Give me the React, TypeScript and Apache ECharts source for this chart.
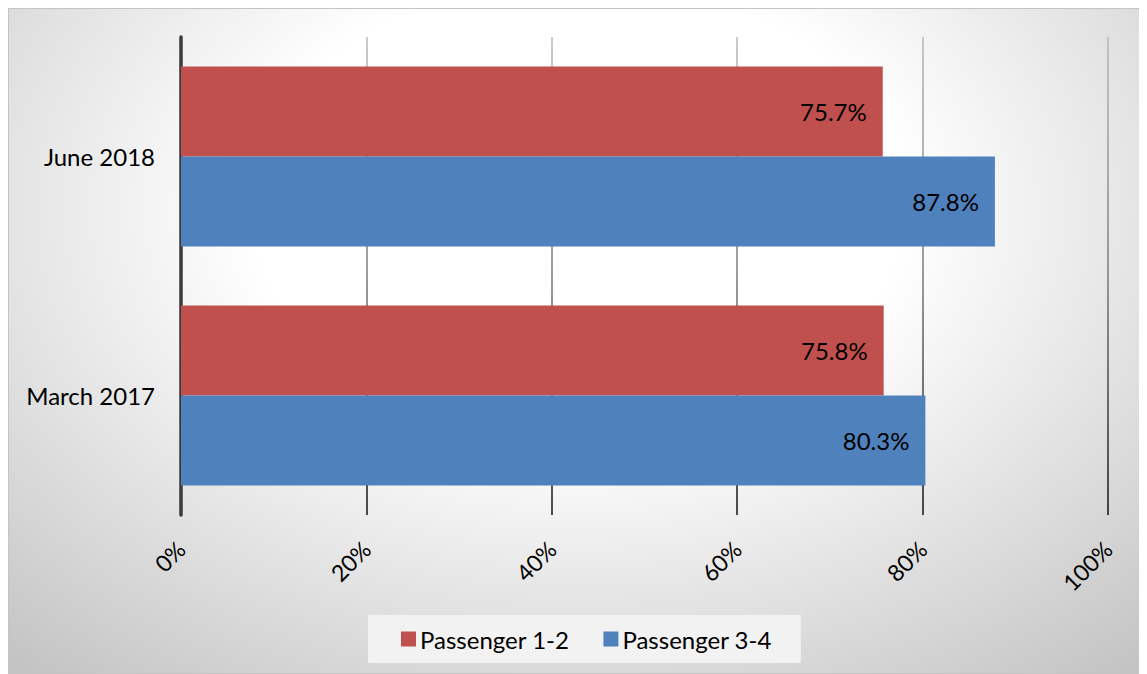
import React, { useEffect, useRef } from "react";
import * as echarts from "echarts";

const categories = ["March 2017", "June 2018"];
const seriesNames = ["Passenger 1-2", "Passenger 3-4"];
const passenger12 = [75.8, 75.7];
const passenger34 = [80.3, 87.8];
const colors = ["#C0504D", "#4F81BD"];

const FONT = "Lato, 'Noto Sans', sans-serif";

export default function App() {
  const ref = useRef<HTMLDivElement>(null);
  useEffect(() => {
    if (!ref.current) return;
    const chart = echarts.init(ref.current, undefined, { renderer: "svg" });
    const labelCfg = {
      show: true,
      position: "insideRight",
      distance: 16,
      color: "#000",
      fontFamily: FONT,
      fontSize: 24,
      formatter: (p: any) => p.value.toFixed(1) + "%",
    };
    chart.setOption({
      animation: false,
      backgroundColor: "transparent",
      textStyle: { fontFamily: FONT },
      grid: { left: 173, right: 39, top: 29, bottom: 159, containLabel: false },
      legend: {
        data: seriesNames,
        left: 360,
        top: 607,
        orient: "horizontal",
        backgroundColor: "#f2f2f2",
        padding: [12, 29, 12, 33],
        itemWidth: 15,
        itemHeight: 15,
        itemGap: 34,
        icon: "rect",
        textStyle: { fontFamily: FONT, fontSize: 24, color: "#000", padding: [0, 0, 0, -1] },
      },
      xAxis: {
        type: "value",
        min: 0,
        max: 100,
        interval: 20,
        axisLine: { show: false },
        axisTick: { show: false },
        axisLabel: {
          rotate: 45,
          margin: 30,
          fontFamily: FONT,
          fontSize: 23,
          color: "#000",
          formatter: "{value}%",
        },
        splitLine: {
          show: true,
          lineStyle: {
            width: 1.5,
            color: new echarts.graphic.LinearGradient(
              0,
              29,
              0,
              507,
              [
                { offset: 0, color: "#b8b8b8" },
                { offset: 0.5, color: "#7a7a7a" },
                { offset: 1, color: "#111111" },
              ],
              true
            ),
          },
        },
      },
      yAxis: {
        type: "category",
        data: categories,
        axisLine: { show: true, lineStyle: { color: "#3a3a3a", width: 3.5 } },
        axisTick: { show: false },
        axisLabel: { margin: 26, fontFamily: FONT, fontSize: 24, color: "#000" },
      },
      series: [
        {
          name: seriesNames[0],
          type: "bar",
          data: passenger12,
          itemStyle: { color: colors[0] },
          barGap: "0%",
          barCategoryGap: "24.7%",
          label: labelCfg,
        },
        {
          name: seriesNames[1],
          type: "bar",
          data: passenger34,
          itemStyle: { color: colors[1] },
          barGap: "0%",
          barCategoryGap: "24.7%",
          label: labelCfg,
        },
      ],
      graphic: [
        {
          type: "rect",
          shape: { x: 0.5, y: 0.5, width: 1138, height: 665 },
          style: { fill: "none", stroke: "#c4c4c4", lineWidth: 1 },
          silent: true,
          z: 100,
        },
      ],
    });
    return () => chart.dispose();
  }, []);
  return (
    <div
      ref={ref}
      style={{
        width: 1139,
        height: 666,
        background:
          "radial-gradient(ellipse 75% 90% at 50% 30%, #ffffff 0%, #ffffff 38%, #c4c4c4 100%)",
      }}
    />
  );
}
